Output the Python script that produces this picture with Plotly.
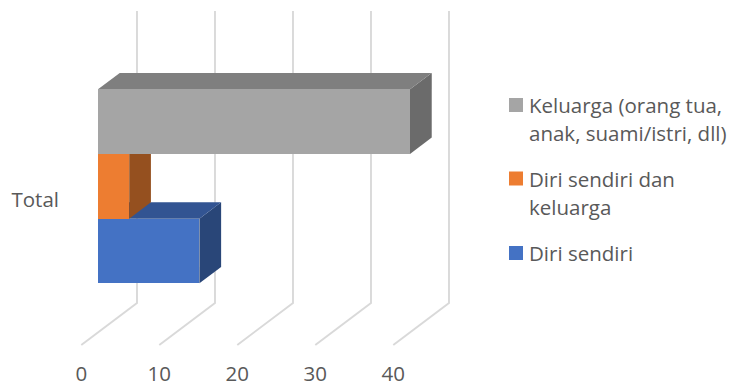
import plotly.graph_objects as go

# Chart data
category = "Total"
series_names = ["Diri sendiri", "Diri sendiri dan keluarga", "Keluarga (orang tua, anak, suami/istri, dll)"]
series_values = [13, 4, 40]
tick_values = [0, 10, 20, 30, 40]

# Colours per series: front, top and side faces of the boxes
front_colors = ["#4472C4", "#ED7D31", "#A5A5A5"]
top_colors = ["#325492", "#AF5B22", "#7F7F7F"]
side_colors = ["#294678", "#95501F", "#6B6B6B"]
grid_color = "#D9D9D9"
text_color = "#595959"
font_family = "Open Sans"
font_size = 20.5

W, H = 737, 387
plot_left, plot_bottom = 60, 359   # plot area in page pixels
zero_px, unit_px = 98, 7.8         # where value 0 sits on the front plane, pixels per unit
center_py, band_px = 186.3, 194    # vertical centre of the category band and its height

x_range = [(plot_left - zero_px) / unit_px, (W - zero_px) / unit_px]
y_range = [(center_py - plot_bottom) / band_px, center_py / band_px]

# Oblique projection: one full floor depth in axis units
depth_x, depth_y = 55.7 / unit_px, 42 / band_px
floor_front, floor_back = -0.3, 0.7   # floor extent relative to the bars' front plane
bar_depth = 0.39


def project(x, y, d):
    return x + d * depth_x, y + d * depth_y


def face(corners, color):
    pts = [project(*c) for c in corners]
    pts.append(pts[0])
    return go.Scatter(
        x=[p[0] for p in pts], y=[p[1] for p in pts],
        mode="lines", line=dict(width=0, color=color),
        fill="toself", fillcolor=color,
        hoverinfo="skip", showlegend=False,
    )


fig = go.Figure()

# Floor diagonals and back-wall verticals of the value gridlines
floor_y = (center_py - 345) / band_px - floor_front * depth_y
top_y = (center_py - 11) / band_px
for v in tick_values:
    bx, by = project(v, floor_y, floor_back)
    fx, fy = project(v, floor_y, floor_front)
    fig.add_trace(go.Scatter(
        x=[fx, bx, bx], y=[fy, by, top_y], mode="lines",
        line=dict(color=grid_color, width=1.9),
        hoverinfo="skip", showlegend=False,
    ))

# Side and top faces of each box, bottom series first
n = len(series_values)
for i, v in enumerate(series_values):
    lo = -0.5 + i / n
    hi = lo + 1 / n
    fig.add_trace(face([(v, lo, 0), (v, hi, 0), (v, hi, bar_depth), (v, lo, bar_depth)], side_colors[i]))
    fig.add_trace(face([(0, hi, 0), (v, hi, 0), (v, hi, bar_depth), (0, hi, bar_depth)], top_colors[i]))

# Front faces sit on an overlaid axis pair so they cover the side and top faces
for i, v in enumerate(series_values):
    fig.add_trace(go.Bar(
        x=[v], y=[0], orientation="h", name=series_names[i],
        marker=dict(color=front_colors[i], line=dict(width=0)),
        xaxis="x2", yaxis="y2", showlegend=False,
    ))

plot_w = W - plot_left


def paper_x(px):
    return (px - plot_left) / plot_w


def paper_y(py):
    return (plot_bottom - py) / plot_bottom


# Legend, listed top to bottom
legend_rows = [
    (front_colors[2], 105, ["Keluarga (orang tua,", "anak, suami/istri, dll)"]),
    (front_colors[1], 178.5, ["Diri sendiri dan", "keluarga"]),
    (front_colors[0], 253, ["Diri sendiri"]),
]
shapes, annotations = [], []
for color, py, lines in legend_rows:
    shapes.append(dict(
        type="rect", xref="paper", yref="paper",
        x0=paper_x(509), x1=paper_x(523), y0=paper_y(py + 7), y1=paper_y(py - 7),
        fillcolor=color, line=dict(width=0),
    ))
    for k, line in enumerate(lines):
        annotations.append(dict(
            xref="paper", yref="paper", x=paper_x(530), y=paper_y(py + 28 * k),
            text=line, showarrow=False, xanchor="left", yanchor="middle",
            xshift=-3, font=dict(family=font_family, size=font_size, color=text_color),
        ))

axis_font = dict(family=font_family, size=font_size, color=text_color)
fig.update_layout(
    width=W, height=H,
    margin=dict(l=plot_left, r=0, t=0, b=H - plot_bottom, pad=0),
    paper_bgcolor="white", plot_bgcolor="white",
    barmode="group", bargap=0, bargroupgap=0,
    showlegend=False, shapes=shapes, annotations=annotations,
    xaxis=dict(
        range=x_range, showgrid=False, zeroline=False, showline=False, ticks="",
        tickmode="array",
        tickvals=[project(v, floor_y, floor_front)[0] for v in tick_values],
        ticktext=[str(v) for v in tick_values], tickfont=axis_font,
    ),
    yaxis=dict(
        range=y_range, showgrid=False, zeroline=False, showline=False, ticks="",
        tickmode="array", tickvals=[(center_py - 199.5) / band_px],
        ticktext=[category], tickfont=axis_font,
    ),
    xaxis2=dict(range=x_range, overlaying="x", visible=False, matches="x"),
    yaxis2=dict(range=y_range, overlaying="y", visible=False, matches="y"),
)

fig.write_html("out.html", config=dict(displayModeBar=False))
